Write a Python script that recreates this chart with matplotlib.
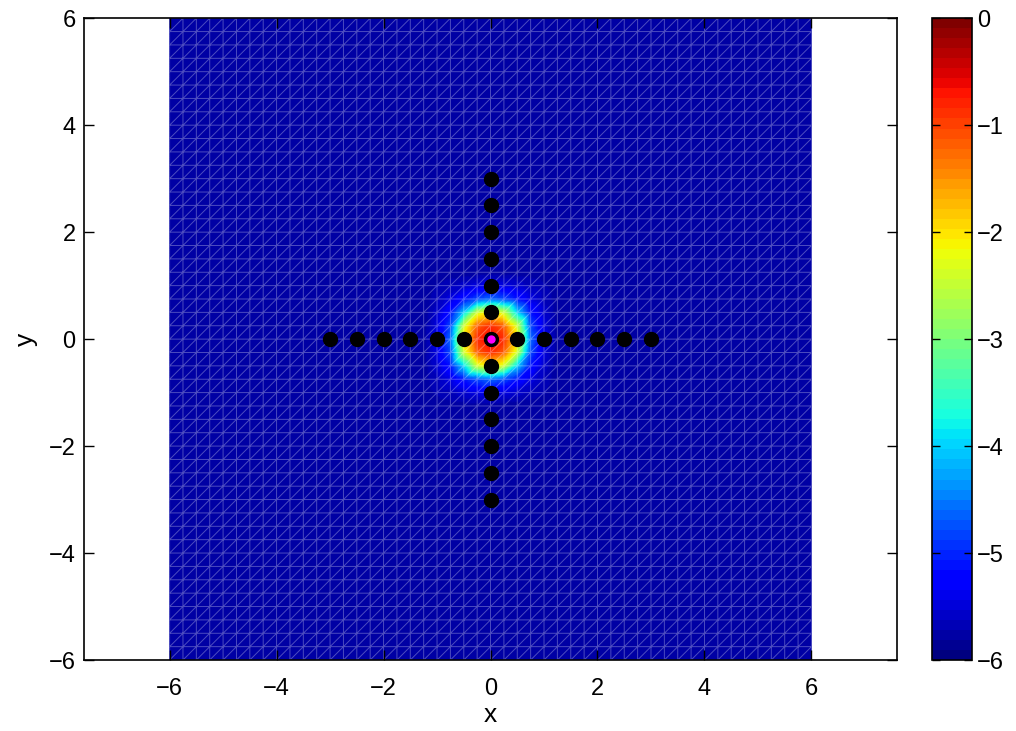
import numpy as np
import matplotlib.pyplot as plt
import matplotlib.tri as mtri
from matplotlib.colors import ListedColormap

plt.rcParams['font.family'] = ['Liberation Sans', 'DejaVu Sans']

# grid nodes, spacing 0.25 on [-6, 6]
grid_x = np.arange(-6, 6.001, 0.25)
grid_y = np.arange(-6, 6.001, 0.25)
background = -5.78

# log10 field near the source, x and y from -1 to 1 (rows: y = 1 down to y = -1)
core = [
    [-5.70, -5.65, -5.55, -5.45, -5.40, -5.45, -5.55, -5.65, -5.70],
    [-5.65, -5.45, -5.10, -4.80, -4.60, -4.80, -5.10, -5.45, -5.65],
    [-5.55, -5.10, -4.00, -2.40, -2.00, -2.40, -4.00, -5.10, -5.55],
    [-5.45, -4.80, -2.40, -1.20, -0.85, -1.20, -2.40, -4.80, -5.45],
    [-5.40, -4.60, -2.00, -0.85, -0.50, -0.85, -2.00, -4.60, -5.40],
    [-5.45, -4.80, -2.40, -1.20, -0.85, -1.20, -2.40, -4.80, -5.45],
    [-5.55, -5.10, -4.00, -2.40, -2.00, -2.40, -4.00, -5.10, -5.55],
    [-5.65, -5.45, -5.10, -4.80, -4.60, -4.80, -5.10, -5.45, -5.65],
    [-5.70, -5.65, -5.55, -5.45, -5.40, -5.45, -5.55, -5.65, -5.70],
]

# receiver positions
rx_x = [-3, -2.5, -2, -1.5, -1, -0.5, 0.5, 1, 1.5, 2, 2.5, 3]
rx_y = [-3, -2.5, -2, -1.5, -1, -0.5, 0.5, 1, 1.5, 2, 2.5, 3]
src = (0, 0)

nx, ny = len(grid_x), len(grid_y)
Z = np.full((ny, nx), background)
c = nx // 2
Z[c - 4:c + 5, c - 4:c + 5] = np.array(core)[::-1]

# two triangles per cell, split along the lower-left/upper-right diagonal
X, Y = np.meshgrid(grid_x, grid_y)
tris = []
for j in range(ny - 1):
    for i in range(nx - 1):
        a = j * nx + i
        b = a + 1
        d = a + nx
        e = d + 1
        tris.append([a, b, e])
        tris.append([a, e, d])
tri = mtri.Triangulation(X.ravel(), Y.ravel(), np.array(tris))

# subdivide for colour interpolation in value space (piecewise linear surface)
z = Z.ravel()
refiner = mtri.UniformTriRefiner(tri)
tri_f, z_f = refiner.refine_field(z, triinterpolator=mtri.LinearTriInterpolator(tri, z), subdiv=3)

cmap = ListedColormap(plt.get_cmap('jet')(np.linspace(0, 1, 64)))

fig = plt.figure(figsize=(10.16, 7.31), dpi=100)
ax = fig.add_axes([0.0827, 0.0971, 0.8002, 0.878])
cax = fig.add_axes([0.9173, 0.0971, 0.0394, 0.878])

tp = ax.tripcolor(tri_f, z_f, shading='gouraud', cmap=cmap, vmin=-6, vmax=0)
ax.triplot(tri, color='white', alpha=0.3, lw=0.7)

ax.plot(rx_x, [0] * len(rx_x), 'o', color='black', ms=10)
ax.plot([0] * len(rx_y), rx_y, 'o', color='black', ms=10)
ax.plot(*src, 'o', color='black', ms=10)
ax.plot(*src, 'o', color='magenta', ms=5)

ax.set_xlim(-7.6, 7.6)
ax.set_ylim(-6, 6)
ax.set_xticks([-6, -4, -2, 0, 2, 4, 6])
ax.set_yticks([-6, -4, -2, 0, 2, 4, 6])
ax.set_xlabel('x', fontsize=19, labelpad=2)
ax.set_ylabel('y', fontsize=19, labelpad=8)
ax.tick_params(direction='in', top=True, right=True, labelsize=17, length=7, width=1)
ax.tick_params(axis='x', pad=13)
ax.tick_params(axis='y', pad=6)
for s in ax.spines.values():
    s.set_linewidth(1.2)

cb = fig.colorbar(tp, cax=cax, ticks=[-6, -5, -4, -3, -2, -1, 0])
cb.ax.tick_params(direction='in', left=True, right=True, labelsize=17, length=6, width=1)
cb.outline.set_linewidth(1.2)
cb.ax.set_yticklabels(['\u22126', '\u22125', '\u22124', '\u22123', '\u22122', '\u22121', '0'])

fig.savefig('out.png', dpi=100)
